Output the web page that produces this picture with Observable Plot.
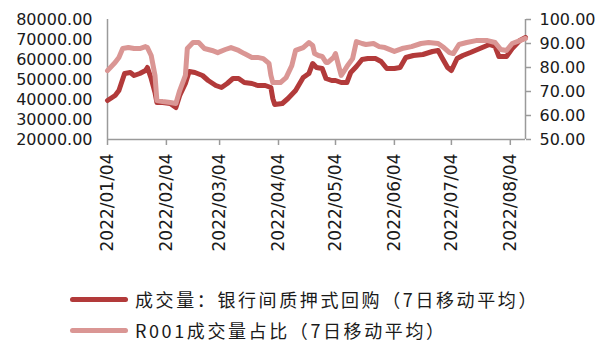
<!DOCTYPE html>
<html>
<head>
<meta charset="utf-8">
<script src="https://cdn.jsdelivr.net/npm/d3@7"></script>
<script src="https://cdn.jsdelivr.net/npm/@observablehq/plot@0.6"></script>
<style>
  html, body { margin: 0; padding: 0; background: #fff; }
  #wrap { position: relative; width: 598px; height: 342px; overflow: hidden; }
  .leg { position: absolute; left: 70px; display: flex; align-items: center; height: 20px; line-height: 20px;
         font-family: "Noto Sans CJK SC", sans-serif; font-size: 18px; letter-spacing: 2.6px; color: #1a1a1a; white-space: nowrap; }
  .sw { width: 58px; height: 5px; border-radius: 3px; margin-right: 7px; flex: none; }
</style>
</head>
<body>
<div id="wrap"></div>
<script>
// Series 1: 成交量：银行间质押式回购（7日移动平均） — left axis
const volDates = ["2022-01-04","2022-01-08","2022-01-10","2022-01-13","2022-01-16","2022-01-18","2022-01-21","2022-01-24","2022-01-25","2022-01-27","2022-01-29","2022-01-30","2022-02-02","2022-02-06","2022-02-09","2022-02-11","2022-02-14","2022-02-16","2022-02-19","2022-02-23","2022-02-26","2022-03-02","2022-03-05","2022-03-08","2022-03-11","2022-03-14","2022-03-17","2022-03-21","2022-03-24","2022-03-28","2022-03-31","2022-04-01","2022-04-02","2022-04-06","2022-04-09","2022-04-13","2022-04-17","2022-04-20","2022-04-22","2022-04-24","2022-04-27","2022-04-29","2022-05-02","2022-05-04","2022-05-07","2022-05-10","2022-05-12","2022-05-15","2022-05-18","2022-05-21","2022-05-25","2022-05-28","2022-05-31","2022-06-04","2022-06-07","2022-06-10","2022-06-14","2022-06-19","2022-06-24","2022-06-27","2022-06-29","2022-07-02","2022-07-04","2022-07-07","2022-07-10","2022-07-14","2022-07-19","2022-07-24","2022-07-27","2022-07-29","2022-08-02","2022-08-05","2022-08-09","2022-08-12"];
const volValues = [39500,42000,44500,53000,53500,52000,53000,54500,56000,50500,43500,38500,38500,38000,36000,42000,48000,54000,53500,52000,49500,47000,46000,48000,50500,50500,48500,48000,47000,47000,46000,40500,37500,38000,40500,44500,51000,53000,58000,56000,55500,50500,49500,49500,48500,48500,53500,56500,60000,60500,60500,59000,55500,55500,56000,61000,62000,62500,64000,64500,61000,56000,54500,60500,62000,63500,65500,67500,66500,61500,61500,65500,69500,71000];

// Series 2: R001成交量占比（7日移动平均） — right axis
const shareDates = ["2022-01-04","2022-01-08","2022-01-10","2022-01-12","2022-01-15","2022-01-18","2022-01-21","2022-01-24","2022-01-25","2022-01-27","2022-01-29","2022-01-30","2022-02-02","2022-02-06","2022-02-09","2022-02-11","2022-02-14","2022-02-15","2022-02-18","2022-02-21","2022-02-24","2022-02-28","2022-03-03","2022-03-07","2022-03-10","2022-03-14","2022-03-17","2022-03-21","2022-03-24","2022-03-27","2022-03-30","2022-03-31","2022-04-01","2022-04-05","2022-04-08","2022-04-11","2022-04-13","2022-04-17","2022-04-20","2022-04-22","2022-04-23","2022-04-25","2022-04-27","2022-04-29","2022-04-30","2022-05-03","2022-05-04","2022-05-06","2022-05-07","2022-05-08","2022-05-10","2022-05-13","2022-05-15","2022-05-18","2022-05-20","2022-05-24","2022-05-27","2022-05-30","2022-06-04","2022-06-08","2022-06-13","2022-06-18","2022-06-22","2022-06-27","2022-06-30","2022-07-03","2022-07-05","2022-07-08","2022-07-12","2022-07-17","2022-07-23","2022-07-27","2022-07-30","2022-08-02","2022-08-05","2022-08-09","2022-08-12"];
const shareValues = [78.7,82.1,84.2,87.9,88.3,87.9,87.9,88.7,88.3,85.0,76.7,66.2,65.8,65.4,65.0,70.4,76.7,87.9,90.4,90.4,87.9,87.1,86.2,87.5,88.3,87.1,85.8,84.2,84.2,83.7,81.7,76.7,73.7,73.7,75.8,80.8,87.1,88.3,90.4,89.2,85.8,85.0,84.6,82.1,82.1,84.2,85.8,79.6,76.7,77.9,80.4,83.7,90.8,90.0,89.6,90.0,88.7,88.3,86.7,87.9,88.7,90.0,90.4,90.0,88.3,86.2,85.8,89.6,90.4,91.2,91.2,90.4,87.5,87.1,90.0,91.2,92.1];

const leftTicks = [20000,30000,40000,50000,60000,70000,80000];
const rightTicks = [50,60,70,80,90,100];
const xTickLabels = ["2022/01/04","2022/02/04","2022/03/04","2022/04/04","2022/05/04","2022/06/04","2022/07/04","2022/08/04"];
const seriesNames = ["成交量：银行间质押式回购（7日移动平均）","R001成交量占比（7日移动平均）"];
const colors = ["#B23A3A","#DA9694"];

const parse = d3.utcParse("%Y-%m-%d");
const parseTick = d3.utcParse("%Y/%m/%d");
const fmtTick = d3.utcFormat("%Y/%m/%d");

// map right-axis values (50..100) onto the left scale (20000..80000)
const toLeft = v => 20000 + (v - 50) * 1200;
const fromLeft = v => 50 + (v - 20000) / 1200;

const vol = volDates.map((d, i) => ({date: parse(d), value: volValues[i]}));
const share = shareDates.map((d, i) => ({date: parse(d), value: toLeft(shareValues[i])}));
const xTicks = xTickLabels.map(parseTick);
const x0 = parse("2022-01-04"), x1 = parse("2022-08-12");
const axisColor = "#9a9a9a";

const chart = Plot.plot({
  width: 598,
  height: 270,
  marginLeft: 107,
  marginRight: 73,
  marginTop: 19,
  marginBottom: 131,
  style: {fontFamily: "DejaVu Sans", fontSize: "16px", color: "#1a1a1a", background: "#fff"},
  x: {type: "utc", domain: [x0, x1]},
  y: {domain: [20000, 80000]},
  marks: [
    Plot.ruleX([x0], {stroke: axisColor, strokeWidth: 1.5}),
    Plot.ruleX([x1], {stroke: axisColor, strokeWidth: 1.5}),
    Plot.ruleY([20000], {stroke: axisColor, strokeWidth: 1.5}),
    Plot.axisY({anchor: "left", ticks: leftTicks, tickSize: 0, tickPadding: 15, tickFormat: d => d.toFixed(2), label: null, fill: "#1a1a1a"}),
    Plot.axisY({anchor: "right", ticks: rightTicks.map(toLeft), tickSize: 5, tickPadding: 9, tickFormat: d => fromLeft(d).toFixed(2), label: null, stroke: axisColor, strokeWidth: 1.5, fill: "#1a1a1a"}),
    Plot.axisX({ticks: xTicks, tickFormat: fmtTick, tickRotate: -90, tickSize: 6, tickPadding: 8, label: null, stroke: axisColor, strokeWidth: 1.5, fill: "#1a1a1a", fontSize: 17}),
    Plot.line(vol, {x: "date", y: "value", stroke: colors[0], strokeWidth: 5, strokeLinejoin: "round", strokeLinecap: "round"}),
    Plot.line(share, {x: "date", y: "value", stroke: colors[1], strokeWidth: 5, strokeLinejoin: "round", strokeLinecap: "round"})
  ]
});

const wrap = document.getElementById("wrap");
wrap.appendChild(chart);
seriesNames.forEach((name, i) => {
  const row = document.createElement("div");
  row.className = "leg";
  row.style.top = (i === 0 ? 289 : 320) + "px";
  const sw = document.createElement("div");
  sw.className = "sw";
  sw.style.background = colors[i];
  const tx = document.createElement("span");
  tx.textContent = name;
  row.appendChild(sw);
  row.appendChild(tx);
  wrap.appendChild(row);
});
</script>
</body>
</html>
